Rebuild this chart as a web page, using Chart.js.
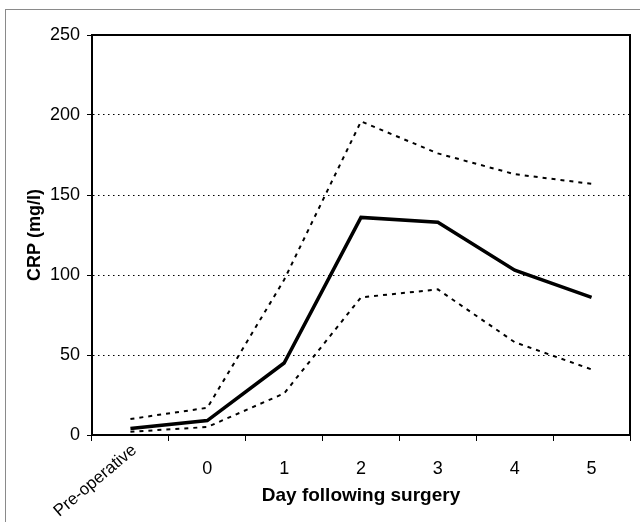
<!DOCTYPE html>
<html><head><meta charset="utf-8">
<script src="https://cdn.jsdelivr.net/npm/chart.js@4.4.1/dist/chart.umd.min.js"></script>
<style>
html,body{margin:0;padding:0;background:#fff;overflow:hidden;}
#frame{position:absolute;left:5px;top:9px;width:660px;height:560px;border-left:1.5px solid #8a8a8a;border-top:1.5px solid #8a8a8a;}
#wrap{position:absolute;left:0;top:0;width:640px;height:522px;}
</style></head>
<body>
<div id="frame"></div>
<div id="wrap"><canvas id="c" width="640" height="522"></canvas></div>
<script>
const categories = ['Pre-operative', '0', '1', '2', '3', '4', '5'];
const meanCRP  = [4, 9, 45, 136, 133, 103, 86];
const upperCRP = [10, 17, 97, 196, 176, 163, 157];
const lowerCRP = [2, 5, 26, 86, 91, 58, 41];
const yTicks = [0, 50, 100, 150, 200, 250];

const FONT = "'Liberation Sans', Arial, sans-serif";

const boxPlugin = {
  id: 'box',
  afterDraw(chart) {
    const {ctx, chartArea: a, scales} = chart;
    ctx.save();
    ctx.strokeStyle = '#000';
    ctx.lineWidth = 2;
    ctx.strokeRect(a.left, a.top, a.right - a.left, a.bottom - a.top);
    // rotated first category label
    const x = scales.x.getPixelForValue(0);
    ctx.translate(x + 4, a.bottom + 13);
    ctx.rotate(-40 * Math.PI / 180);
    ctx.font = '17px ' + FONT;
    ctx.fillStyle = '#000';
    ctx.textAlign = 'right';
    ctx.textBaseline = 'middle';
    ctx.fillText(categories[0], 0, 0);
    ctx.restore();
  }
};

new Chart(document.getElementById('c'), {
  type: 'line',
  data: {
    labels: categories,
    datasets: [
      {label: 'Upper', data: upperCRP, borderColor: '#000', borderWidth: 2, borderDash: [4, 5], pointRadius: 0, tension: 0, fill: false},
      {label: 'Mean', data: meanCRP, borderColor: '#000', borderWidth: 3.5, pointRadius: 0, tension: 0, fill: false},
      {label: 'Lower', data: lowerCRP, borderColor: '#000', borderWidth: 2, borderDash: [4, 5], pointRadius: 0, tension: 0, fill: false}
    ]
  },
  options: {
    responsive: false,
    animation: false,
    devicePixelRatio: 1,
    layout: {padding: {left: 0, top: 35, right: 10, bottom: 0}},
    plugins: {legend: {display: false}, tooltip: {enabled: false}},
    scales: {
      x: {
        offset: true,
        grid: {offset: true, drawOnChartArea: false, drawTicks: true, tickLength: 6, tickColor: '#000', tickWidth: 1},
        border: {display: true, color: '#000', width: 2},
        ticks: {
          color: '#000', font: {family: FONT, size: 18}, maxRotation: 0, minRotation: 0, padding: 17,
          callback: (v, i) => i === 0 ? '' : categories[i]
        },
        title: {display: true, text: 'Day following surgery', color: '#000', font: {family: FONT, size: 19, weight: 'bold'}, padding: {top: 4, bottom: 15}},
        afterFit: s => { s.height = 87; }
      },
      y: {
        min: 0, max: 250,
        afterBuildTicks: s => { s.ticks = yTicks.map(v => ({value: v})); },
        grid: {
          color: ctx => (ctx.tick && (ctx.tick.value === 0 || ctx.tick.value === 250)) ? 'rgba(0,0,0,0)' : '#000',
          lineWidth: 1, tickLength: 5, tickColor: '#000', tickBorderDash: []
        },
        border: {display: true, color: '#000', width: 2, dash: [1.5, 3.5]},
        ticks: {color: '#000', font: {family: FONT, size: 18}, padding: 7},
        title: {display: true, text: 'CRP (mg/l)', color: '#000', font: {family: FONT, size: 18, weight: 'bold'}, padding: {top: 24, bottom: 4}},
        afterFit: s => { s.width = 92; }
      }
    }
  },
  plugins: [boxPlugin]
});
</script>
</body></html>
